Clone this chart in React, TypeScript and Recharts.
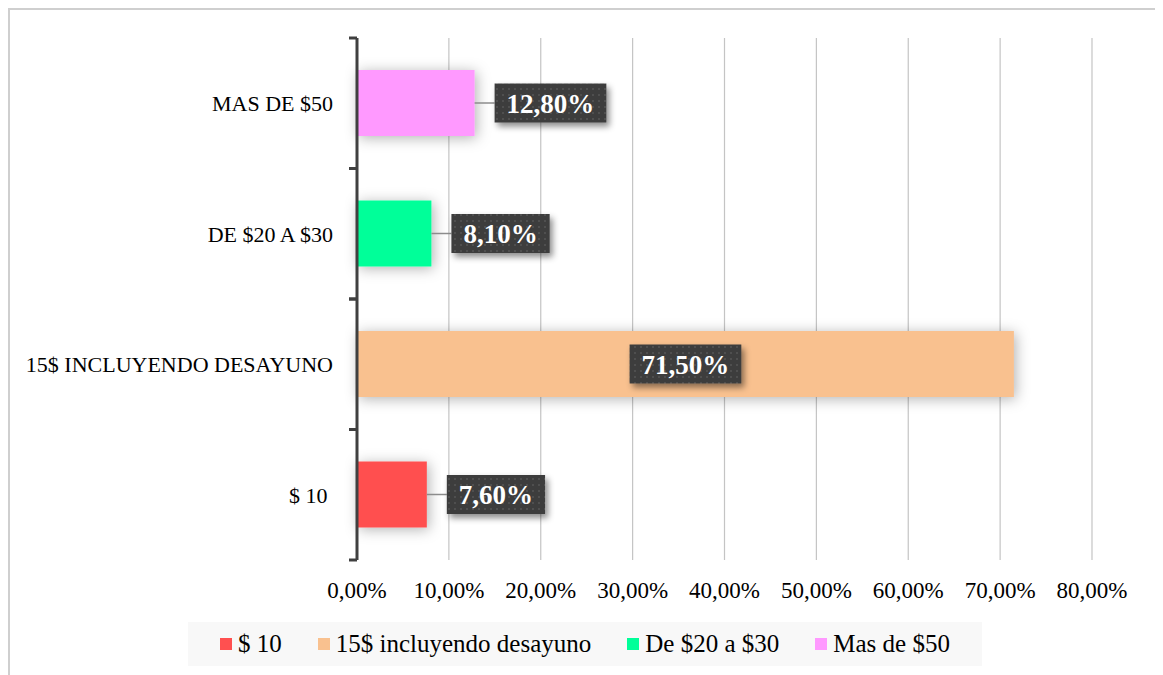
import React from 'react';
import { BarChart, Bar, XAxis, YAxis, CartesianGrid, Cell, LabelList, Legend } from 'recharts';

const categories = ['$ 10 ', '15$ INCLUYENDO DESAYUNO', 'DE $20 A $30', 'MAS DE $50'];
const values = [7.6, 71.5, 8.1, 12.8];
const legendLabels = ['$ 10', '15$ incluyendo desayuno', 'De $20 a $30', 'Mas de $50'];
const colors = ['#FF5050', '#F9C18F', '#00FF99', '#FF99FF'];
const xTicks = [0, 10, 20, 30, 40, 50, 60, 70, 80];

const data = categories.map((c, i) => ({ name: c, value: values[i], color: colors[i] }));

const SERIF = '"Liberation Serif", "DejaVu Serif", serif';
const fmtPct = (v: number) => v.toFixed(2).replace('.', ',') + '%';

const Y_TICK_SIZE = 8;
const Y_TICK_MARGIN = 16;

const YTick = (props: any) => {
  const { x, y, payload } = props;
  const axisX = x + Y_TICK_SIZE + Y_TICK_MARGIN;
  const off = payload && payload.offset ? payload.offset : 0;
  return (
    <g>
      <text
        x={x}
        y={y}
        dy="0.355em"
        textAnchor="end"
        xmlSpace="preserve"
        style={{ whiteSpace: 'pre' }}
        fontFamily={SERIF}
        fontSize={22}
        fill="#000"
      >
        {payload.value}
      </text>
      <line x1={axisX - Y_TICK_SIZE} x2={axisX} y1={y - off} y2={y - off} stroke="#404040" strokeWidth={3} />
      <line x1={axisX - Y_TICK_SIZE} x2={axisX} y1={y + off} y2={y + off} stroke="#404040" strokeWidth={3} />
    </g>
  );
};

const charW = (ch: string) => {
  if (ch === ',') return 0.25;
  if (ch === '%') return 1.0;
  return 0.5;
};

const DataLabel = (props: any) => {
  const { x, y, width, height, value } = props;
  const text = fmtPct(Number(value));
  const fs = 27;
  const tw = text.split('').reduce((s, c) => s + charW(c), 0) * fs;
  const bw = tw + 24;
  const bh = 39;
  const cy = y + height / 2;
  const inside = width > 150;
  const bx = inside ? x + width / 2 - bw / 2 : x + width + 20;
  return (
    <g>
      {!inside && (
        <line x1={x + width} x2={bx} y1={cy} y2={cy} stroke="#8c8c8c" strokeWidth={1.5} />
      )}
      <rect x={bx} y={cy - bh / 2} width={bw} height={bh} fill="url(#dots)" filter="url(#lblShadow)" />
      <text
        x={bx + bw / 2}
        y={cy}
        dy="0.36em"
        textAnchor="middle"
        fontFamily={SERIF}
        fontWeight="bold"
        fontSize={fs}
        fill="#ffffff"
      >
        {text}
      </text>
    </g>
  );
};

const BarShape = (props: any) => {
  const { x, y, width, height, fill } = props;
  return <rect x={x} y={y} width={width} height={height} fill={fill} filter="url(#barShadow)" />;
};

const LegendContent = () => (
  <div
    style={{
      width: '100%',
      height: '100%',
      background: '#f8f8f8',
      display: 'flex',
      alignItems: 'center',
      justifyContent: 'center',
      fontFamily: SERIF,
      fontSize: 25,
      color: '#000',
      whiteSpace: 'nowrap',
    }}
  >
    {legendLabels.map((l, i) => (
      <div key={l} style={{ display: 'flex', alignItems: 'center', marginRight: i < legendLabels.length - 1 ? 36 : 0 }}>
        <span style={{ display: 'inline-block', width: 12, height: 12, background: colors[i], marginRight: 6 }} />
        <span>{l}</span>
      </div>
    ))}
  </div>
);

export default function App() {
  return (
    <div style={{ position: 'relative', width: 1155, height: 667, overflow: 'hidden' }}>
      <div
        style={{
          position: 'absolute',
          left: 0,
          top: 0,
          width: 1154,
          height: 720,
          border: '2px solid #cfcfcf',
          boxSizing: 'border-box',
        }}
      />
      <div style={{ position: 'absolute', left: 0, top: 0 }}>
        <BarChart
          width={1150}
          height={667}
          data={data}
          layout="vertical"
          margin={{ top: 30, right: 66, bottom: 65, left: 0 }}
        >
          <defs>
            <filter id="barShadow" x="-20%" y="-50%" width="140%" height="200%">
              <feDropShadow dx="2" dy="2" stdDeviation="7" floodColor="#000" floodOpacity="0.3" />
            </filter>
            <filter id="lblShadow" x="-20%" y="-30%" width="150%" height="170%">
              <feDropShadow dx="3" dy="4" stdDeviation="3" floodColor="#000" floodOpacity="0.45" />
            </filter>
            <pattern id="dots" width="6" height="6" patternUnits="userSpaceOnUse">
              <rect width="6" height="6" fill="#3d3d3d" />
              <circle cx="3" cy="3" r="0.9" fill="#575757" />
            </pattern>
          </defs>
          <CartesianGrid horizontal={false} vertical={true} stroke="#c4c4c4" strokeWidth={1.2} />
          <XAxis
            type="number"
            domain={[0, 80]}
            ticks={xTicks}
            tickFormatter={fmtPct}
            axisLine={false}
            tickLine={false}
            tickSize={0}
            tickMargin={22}
            height={50}
            interval={0}
            tick={{ fontFamily: SERIF, fontSize: 23, fill: '#000' }}
          />
          <YAxis
            type="category"
            dataKey="name"
            reversed
            width={349}
            axisLine={{ stroke: '#404040', strokeWidth: 3 }}
            tickLine={false}
            tickSize={Y_TICK_SIZE}
            tickMargin={Y_TICK_MARGIN}
            interval={0}
            tick={<YTick />}
          />
          <Legend
            layout="horizontal"
            verticalAlign="middle"
            align="center"
            content={<LegendContent />}
            wrapperStyle={{ left: 180, top: 614, width: 794, height: 44 }}
          />
          <Bar dataKey="value" barSize={66} isAnimationActive={false} shape={<BarShape />}>
            {data.map((d) => (
              <Cell key={d.name} fill={d.color} />
            ))}
            <LabelList dataKey="value" content={<DataLabel />} />
          </Bar>
        </BarChart>
      </div>
    </div>
  );
}
